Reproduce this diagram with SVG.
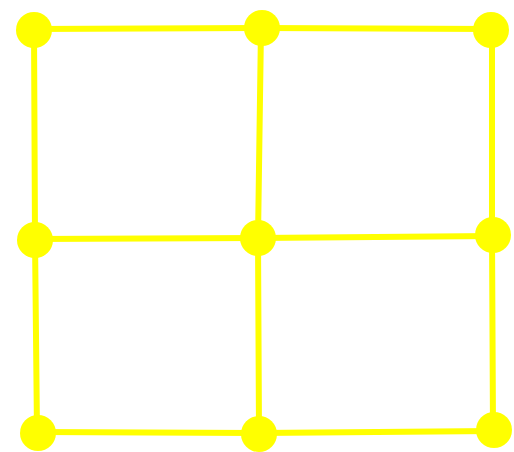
<svg xmlns="http://www.w3.org/2000/svg" width="514" height="452" viewBox="0 0 514 452">
<style>
.edge{stroke:#FFFF00;stroke-width:6;fill:none;stroke-linecap:round}
.node{fill:#FFFF00}
</style>
<rect width="514" height="452" fill="#FFFFFF"/>
<g id="connectors">
<line class="edge" x1="34" y1="29" x2="262" y2="28"/>
<line class="edge" x1="262" y1="28" x2="491" y2="29"/>
<line class="edge" x1="35" y1="239" x2="258" y2="238"/>
<line class="edge" x1="258" y1="238" x2="493" y2="236"/>
<line class="edge" x1="37" y1="432" x2="259" y2="433"/>
<line class="edge" x1="259" y1="433" x2="494" y2="431"/>
<line class="edge" x1="34" y1="29" x2="35" y2="239"/>
<line class="edge" x1="35" y1="239" x2="37" y2="432"/>
<line class="edge" x1="261" y1="28" x2="258" y2="238"/>
<line class="edge" x1="258" y1="238" x2="259" y2="433"/>
<line class="edge" x1="492" y1="29" x2="492" y2="236"/>
<line class="edge" x1="492" y1="236" x2="493" y2="431"/>
</g>
<g id="n1"><circle class="node" cx="34" cy="30" r="18"/></g>
<g id="n2"><circle class="node" cx="262" cy="28" r="18"/></g>
<g id="n3"><circle class="node" cx="491" cy="30" r="18"/></g>
<g id="n4"><circle class="node" cx="35" cy="240" r="18"/></g>
<g id="n5"><circle class="node" cx="258" cy="238" r="18"/></g>
<g id="n6"><circle class="node" cx="493" cy="235" r="18"/></g>
<g id="n7"><circle class="node" cx="38" cy="433" r="18"/></g>
<g id="n8"><circle class="node" cx="259" cy="434" r="18"/></g>
<g id="n9"><circle class="node" cx="494" cy="430" r="18"/></g>
</svg>
